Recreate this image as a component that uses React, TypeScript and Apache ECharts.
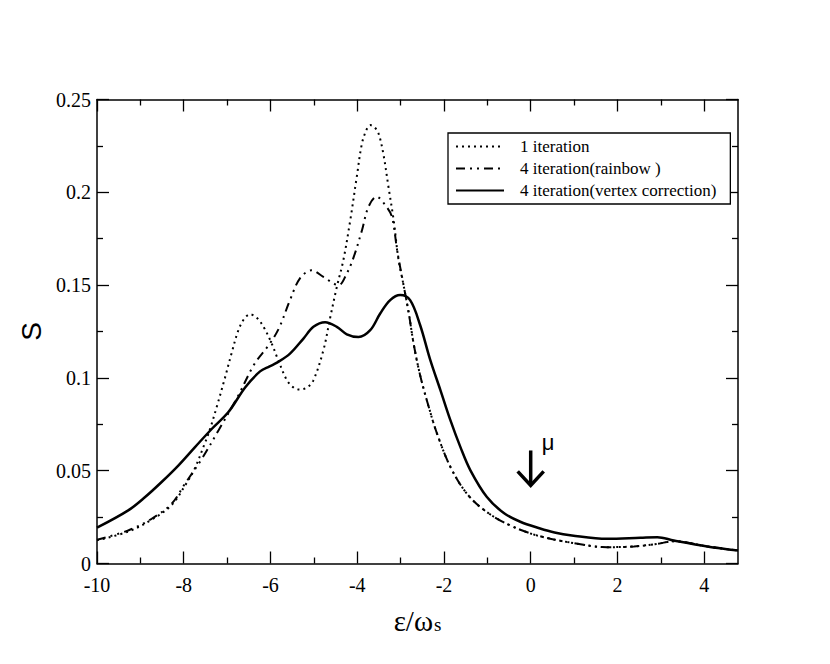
import React, { useEffect, useRef } from 'react';
import * as echarts from 'echarts';

// ---- data ----
const seriesNames = ['1 iteration', '4 iteration(rainbow )', '4 iteration(vertex correction)'];

const xOne = [-10, -9.28, -8.74, -8.28, -7.97, -7.75, -7.51, -7.4, -7.24, -7.05, -6.9, -6.74, -6.6, -6.47, -6.3, -6.16, -5.98, -5.85, -5.62, -5.45, -5.32, -5.15, -5.01, -4.78, -4.62, -4.47, -4.32, -4.16, -4.01, -3.89, -3.78, -3.7, -3.6, -3.51, -3.4, -3.28, -3.16, -3.05, -2.94, -2.81, -2.7, -2.55, -2.35, -2.16, -1.85, -1.47, -1.01, -0.47, 0.15, 0.99, 1.76, 2.38, 2.92, 3.3, 4.07, 4.78];
const yOne = [0.0125, 0.0172, 0.0236, 0.0315, 0.042, 0.051, 0.065, 0.072, 0.0843, 0.1, 0.113, 0.1257, 0.132, 0.1343, 0.132, 0.1275, 0.119, 0.1113, 0.0987, 0.0945, 0.0937, 0.095, 0.0987, 0.1149, 0.1328, 0.149, 0.1634, 0.185, 0.2084, 0.2264, 0.234, 0.2362, 0.235, 0.2318, 0.221, 0.203, 0.185, 0.164, 0.151, 0.1347, 0.1185, 0.1015, 0.0843, 0.07, 0.052, 0.0376, 0.0277, 0.0205, 0.0151, 0.011, 0.0088, 0.0092, 0.0106, 0.012, 0.0092, 0.007];

const xRainbow = [-10, -9.28, -8.74, -8.28, -7.97, -7.58, -7.2, -6.76, -6.37, -6.03, -5.8, -5.55, -5.32, -5.05, -4.78, -4.43, -4.24, -4.08, -3.89, -3.74, -3.55, -3.35, -3.2, -3.08, -2.94, -2.81, -2.7, -2.55, -2.35, -2.16, -1.85, -1.47, -1.01, -0.47, 0.15, 0.99, 1.76, 2.38, 2.92, 3.3, 4.07, 4.78];
const yRainbow = [0.0128, 0.0178, 0.0241, 0.0322, 0.043, 0.0565, 0.0717, 0.0897, 0.1075, 0.118, 0.127, 0.1419, 0.1536, 0.158, 0.1544, 0.15, 0.1563, 0.1652, 0.1796, 0.1922, 0.1976, 0.193, 0.1868, 0.1688, 0.151, 0.1347, 0.1185, 0.1015, 0.0843, 0.07, 0.052, 0.0376, 0.0277, 0.0205, 0.0151, 0.011, 0.0088, 0.0092, 0.0106, 0.012, 0.0092, 0.007];

const xVertex = [-10, -9.28, -8.89, -8.51, -8.12, -7.74, -7.35, -6.97, -6.58, -6.24, -6.02, -5.85, -5.55, -5.24, -5.01, -4.74, -4.47, -4.24, -3.97, -3.7, -3.47, -3.24, -3.01, -2.78, -2.55, -2.32, -2.08, -1.85, -1.62, -1.39, -1.01, -0.62, -0.24, 0.2, 0.55, 0.95, 1.76, 2.53, 2.92, 3.3, 4.07, 4.78];
const yVertex = [0.0193, 0.0286, 0.0358, 0.0439, 0.0529, 0.0627, 0.0726, 0.0816, 0.095, 0.1035, 0.1062, 0.1082, 0.1131, 0.1212, 0.1275, 0.13, 0.1275, 0.1235, 0.122, 0.1257, 0.1347, 0.1419, 0.1446, 0.1419, 0.1285, 0.11, 0.0933, 0.0771, 0.0627, 0.0502, 0.0358, 0.0272, 0.0225, 0.019, 0.0167, 0.0151, 0.0133, 0.0139, 0.0142, 0.0124, 0.0092, 0.007];

const xMin = -10;
const xMax = 4.78;
const yMin = 0;
const yMax = 0.25;
const yInterval = 0.05;
const xTickValues = [-10, -8, -6, -4, -2, 0, 2, 4];
const xMinorTickValues = [-9, -7, -5, -3, -1, 1, 3];

const muX = 0;
const muArrowTop = 0.0609;
const muArrowTip = 0.0421;
const muLabel = 'μ';

const xName = '{m|ε/ω}{s|s}';
const yName = 'S';

// ---- styling ----
const SERIF = 'Liberation Serif';
const SANS = 'Liberation Sans';
const BLACK = '#000';

const pairs = (xs: number[], ys: number[]) => xs.map((x, i) => [x, ys[i]]);

function xAxisDef(position: 'top' | 'bottom', major: boolean, withLine: boolean, withLabels: boolean, extra: any = {}) {
  return {
    type: 'value',
    position,
    min: xMin,
    max: xMax,
    axisLine: { show: withLine, onZero: false, lineStyle: { color: BLACK, width: 1.5 } },
    axisTick: {
      show: true,
      inside: true,
      length: major ? 12 : 6,
      customValues: major ? xTickValues : xMinorTickValues,
      lineStyle: { color: BLACK, width: 1.3 },
    },
    axisLabel: withLabels
      ? {
          show: true,
          customValues: xTickValues,
          color: BLACK,
          fontFamily: SERIF,
          fontSize: 20,
          margin: 11,
          formatter: (v: number) => String(v),
        }
      : { show: false },
    splitLine: { show: false },
    ...extra,
  };
}

function yAxisDef(position: 'left' | 'right', withLabels: boolean, extra: any = {}) {
  return {
    type: 'value',
    position,
    min: yMin,
    max: yMax,
    interval: yInterval,
    axisLine: { show: true, onZero: false, lineStyle: { color: BLACK, width: 1.5 } },
    axisTick: { show: true, inside: true, length: 12, lineStyle: { color: BLACK, width: 1.3 } },
    minorTick: { show: true, splitNumber: 2, length: 6, lineStyle: { color: BLACK, width: 1.3 } },
    axisLabel: withLabels
      ? { show: true, color: BLACK, fontFamily: SERIF, fontSize: 20, margin: 6 }
      : { show: false },
    splitLine: { show: false },
    minorSplitLine: { show: false },
    ...extra,
  };
}

export default function App() {
  const ref = useRef<HTMLDivElement>(null);

  useEffect(() => {
    if (!ref.current) return;
    const chart = echarts.init(ref.current, null, { renderer: 'svg' });

    const option: any = {
      animation: false,
      backgroundColor: '#fff',
      textStyle: { fontFamily: SERIF },
      grid: { left: 97, right: 92, top: 99.5, bottom: 100.5, containLabel: false, outerBoundsMode: 'none' },
      legend: {
        data: seriesNames,
        orient: 'vertical',
        left: 448,
        top: 133,
        itemWidth: 48,
        itemHeight: 14,
        itemGap: 5,
        padding: [5, 14, 5, 7],
        borderColor: BLACK,
        borderWidth: 1.3,
        backgroundColor: '#fff',
        selectedMode: false,
        itemStyle: { color: 'rgba(0,0,0,0)', borderColor: 'rgba(0,0,0,0)', borderWidth: 0, opacity: 0 },
        textStyle: { fontFamily: SERIF, fontSize: 17, color: BLACK, padding: [0, 0, 0, 11] },
      },
      xAxis: [
        xAxisDef('bottom', true, true, true, {
          name: xName,
          nameLocation: 'middle',
          nameGap: 39,
          nameTextStyle: {
            color: BLACK,
            fontFamily: SERIF,
            rich: {
              m: { fontFamily: SERIF, fontSize: 29, lineHeight: 28, verticalAlign: 'top', color: BLACK },
              s: { fontFamily: SERIF, fontSize: 19, lineHeight: 19, padding: [16, 0, 0, 1], verticalAlign: 'bottom', color: BLACK },
            },
          },
        }),
        xAxisDef('bottom', false, false, false),
        xAxisDef('top', true, true, false),
        xAxisDef('top', false, false, false),
      ],
      yAxis: [
        yAxisDef('left', true, {
          name: yName,
          nameLocation: 'middle',
          nameGap: 43,
          nameRotate: 90,
          nameTextStyle: { fontFamily: SANS, fontSize: 28, color: BLACK },
        }),
        yAxisDef('right', false),
      ],
      series: [
        {
          name: seriesNames[0],
          type: 'line',
          data: pairs(xOne, yOne),
          xAxisIndex: 0,
          yAxisIndex: 0,
          showSymbol: false,
          symbol: 'none',
          smooth: 0.35,
          lineStyle: { color: BLACK, width: 2, type: [2, 4] },
          itemStyle: { color: BLACK },
          z: 3,
        },
        {
          name: seriesNames[1],
          type: 'line',
          data: pairs(xRainbow, yRainbow),
          xAxisIndex: 0,
          yAxisIndex: 0,
          showSymbol: false,
          symbol: 'none',
          smooth: 0.35,
          lineStyle: { color: BLACK, width: 2, type: [9, 5, 2, 5, 2, 5] },
          itemStyle: { color: BLACK },
          z: 3,
        },
        {
          name: seriesNames[2],
          type: 'line',
          data: pairs(xVertex, yVertex),
          xAxisIndex: 0,
          yAxisIndex: 0,
          showSymbol: false,
          symbol: 'none',
          smooth: 0.35,
          lineStyle: { color: BLACK, width: 2.5, type: 'solid' },
          itemStyle: { color: BLACK },
          z: 4,
        },
        {
          type: 'custom',
          xAxisIndex: 0,
          yAxisIndex: 0,
          silent: true,
          z: 5,
          data: [[muX, muArrowTop, muArrowTip]],
          renderItem: (_params: any, api: any) => {
            const top = api.coord([api.value(0), api.value(1)]);
            const tip = api.coord([api.value(0), api.value(2)]);
            return {
              type: 'group',
              children: [
                {
                  type: 'line',
                  shape: { x1: top[0], y1: top[1], x2: tip[0], y2: tip[1] - 1 },
                  style: { stroke: BLACK, lineWidth: 3.5 },
                },
                {
                  type: 'polyline',
                  shape: { points: [[tip[0] - 13, tip[1] - 14], [tip[0], tip[1]], [tip[0] + 13, tip[1] - 14]] },
                  style: { stroke: BLACK, lineWidth: 3.5, fill: 'none', lineJoin: 'miter' },
                },
                {
                  type: 'text',
                  x: top[0] + 11,
                  y: top[1] - 8,
                  style: { text: muLabel, fontFamily: SANS, fontSize: 22, fill: BLACK, align: 'left', verticalAlign: 'middle' },
                },
              ],
            };
          },
        },
      ],
    };

    chart.setOption(option);
    return () => chart.dispose();
  }, []);

  return (
    <div
      ref={ref}
      style={{ position: 'fixed', left: 0, top: 0, width: 830, height: 664, background: '#fff' }}
    />
  );
}
